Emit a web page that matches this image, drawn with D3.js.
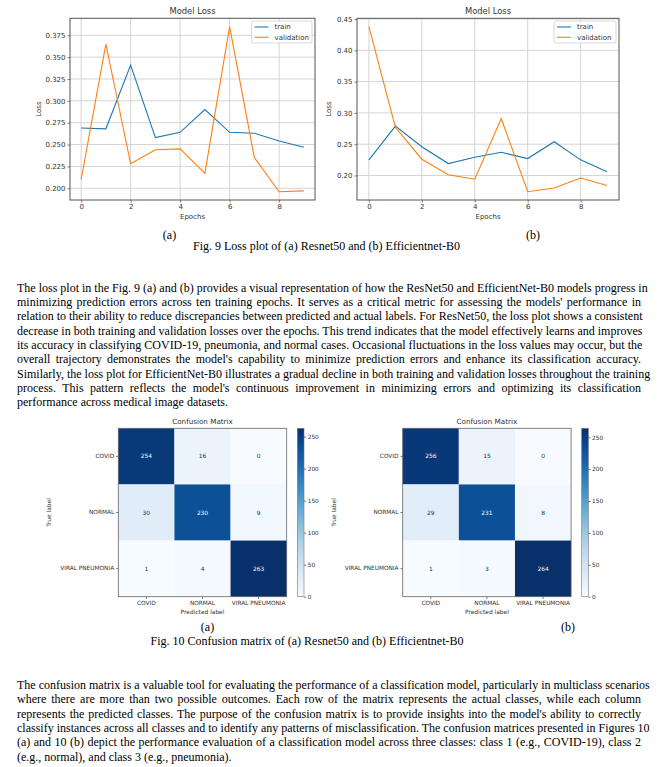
<!DOCTYPE html>
<html>
<head>
<meta charset="utf-8">
<script src="https://cdn.jsdelivr.net/npm/d3@7"></script>
<style>
  body { margin: 0; background: #fff; }
  #page { position: relative; width: 658px; height: 767px; overflow: hidden; }
  #page svg { position: absolute; left: 0; top: 0; }
  .line {
    position: absolute; left: 17px; width: 624px; height: 14px; line-height: 14px;
    font-family: "Liberation Serif", "Times New Roman", serif; font-size: 12px; color: #000;
    white-space: nowrap; text-align: justify; text-align-last: justify;
  }
  .line.last { text-align-last: left; }
</style>
</head>
<body>
<div id="page"></div>
<script>
// Loss curves
var epochs = [0, 1, 2, 3, 4, 5, 6, 7, 8, 9];
var resnetTrain = [0.269, 0.268, 0.341, 0.258, 0.264, 0.290, 0.264, 0.263, 0.254, 0.247];
var resnetVal = [0.210, 0.365, 0.228, 0.244, 0.245, 0.217, 0.385, 0.235, 0.196, 0.197];
var effTrain = [0.225, 0.279, 0.246, 0.219, 0.229, 0.237, 0.227, 0.254, 0.225, 0.206];
var effVal = [0.438, 0.277, 0.226, 0.201, 0.194, 0.291, 0.174, 0.180, 0.196, 0.184];

// Tick labels
var epochTicks = [0, 2, 4, 6, 8];
var resnetLossTicks = [0.200, 0.225, 0.250, 0.275, 0.300, 0.325, 0.350, 0.375];
var effLossTicks = [0.20, 0.25, 0.30, 0.35, 0.40, 0.45];
var colorbarTicks = [0, 50, 100, 150, 200, 250];

// Confusion matrices (rows = true label, columns = predicted label)
var classLabels = ["COVID", "NORMAL", "VIRAL PNEUMONIA"];
var resnetMatrix = [[254, 16, 0], [30, 230, 9], [1, 4, 263]];
var effMatrix = [[256, 15, 0], [29, 231, 8], [1, 3, 264]];

// Body text, one entry per printed line
var para1Lines = [
  "The loss plot in the Fig. 9 (a) and (b) provides a visual representation of how the ResNet50 and EfficientNet-B0 models progress in",
  "minimizing prediction errors across ten training epochs. It serves as a critical metric for assessing the models' performance in",
  "relation to their ability to reduce discrepancies between predicted and actual labels. For ResNet50, the loss plot shows a consistent",
  "decrease in both training and validation losses over the epochs. This trend indicates that the model effectively learns and improves",
  "its accuracy in classifying COVID-19, pneumonia, and normal cases. Occasional fluctuations in the loss values may occur, but the",
  "overall trajectory demonstrates the model's capability to minimize prediction errors and enhance its classification accuracy.",
  "Similarly, the loss plot for EfficientNet-B0 illustrates a gradual decline in both training and validation losses throughout the training",
  "process. This pattern reflects the model's continuous improvement in minimizing errors and optimizing its classification",
  "performance across medical image datasets."
];
var para2Lines = [
  "The confusion matrix is a valuable tool for evaluating the performance of a classification model, particularly in multiclass scenarios",
  "where there are more than two possible outcomes. Each row of the matrix represents the actual classes, while each column",
  "represents the predicted classes. The purpose of the confusion matrix is to provide insights into the model's ability to correctly",
  "classify instances across all classes and to identify any patterns of misclassification. The confusion matrices presented in Figures 10",
  "(a) and 10 (b) depict the performance evaluation of a classification model across three classes: class 1 (e.g., COVID-19), class 2",
  "(e.g., normal), and class 3 (e.g., pneumonia)."
];

var mplFont = "DejaVu Sans, sans-serif";
var serifFont = "Liberation Serif, Times New Roman, serif";
var textColor = "#333";

var page = d3.select("#page");
var svg = page.append("svg")
  .attr("width", 658)
  .attr("height", 767);

// Colorbar gradient shared by both matrices
var grad = svg.append("defs").append("linearGradient")
  .attr("id", "blues")
  .attr("x1", 0).attr("y1", 1).attr("x2", 0).attr("y2", 0);
grad.selectAll("stop")
  .data(d3.range(0, 1.0001, 0.1))
  .enter()
  .append("stop")
  .attr("offset", d => d)
  .attr("stop-color", d => d3.interpolateBlues(d));

function styleTicks(axisG, size) {
  axisG.attr("font-family", mplFont).attr("font-size", size);
  axisG.selectAll("text").attr("fill", textColor);
  axisG.selectAll("line").attr("stroke", "#444").attr("stroke-width", 0.7);
  axisG.select(".domain").remove();
}

// Line chart of train / validation loss
function drawLoss(cfg) {
  var g = svg.append("g");

  var xPad = (d3.max(epochs) - d3.min(epochs)) * 0.05;
  var x = d3.scaleLinear()
    .domain([d3.min(epochs) - xPad, d3.max(epochs) + xPad])
    .range([cfg.left, cfg.right]);

  var all = cfg.train.concat(cfg.val);
  var yPad = (d3.max(all) - d3.min(all)) * 0.05;
  var y = d3.scaleLinear()
    .domain([d3.min(all) - yPad, d3.max(all) + yPad])
    .range([cfg.bottom, cfg.top]);

  // grid
  g.append("g").selectAll("line")
    .data(epochTicks)
    .enter()
    .append("line")
    .attr("x1", d => x(d)).attr("x2", d => x(d))
    .attr("y1", cfg.top).attr("y2", cfg.bottom)
    .attr("stroke", "#d4d4d4").attr("stroke-width", 1);
  g.append("g").selectAll("line")
    .data(cfg.ticks)
    .enter()
    .append("line")
    .attr("x1", cfg.left).attr("x2", cfg.right)
    .attr("y1", d => y(d)).attr("y2", d => y(d))
    .attr("stroke", "#d4d4d4").attr("stroke-width", 1);

  // axes
  var bottomAxis = d3.axisBottom(x).tickValues(epochTicks).tickSize(2.5).tickPadding(2).tickFormat(d3.format("d"));
  var leftAxis = d3.axisLeft(y).tickValues(cfg.ticks).tickSize(2.5).tickPadding(2).tickFormat(d3.format(cfg.fmt));
  styleTicks(g.append("g").attr("transform", `translate(0, ${cfg.bottom})`).call(bottomAxis), 7);
  styleTicks(g.append("g").attr("transform", `translate(${cfg.left}, 0)`).call(leftAxis), 7);

  // lines
  var line = d3.line()
    .x((d, i) => x(epochs[i]))
    .y(d => y(d));
  g.append("path").datum(cfg.train)
    .attr("d", line).attr("fill", "none")
    .attr("stroke", "#1f77b4").attr("stroke-width", 1.1);
  g.append("path").datum(cfg.val)
    .attr("d", line).attr("fill", "none")
    .attr("stroke", "#ff7f0e").attr("stroke-width", 1.1);

  // frame
  g.append("rect")
    .attr("x", cfg.left).attr("y", cfg.top)
    .attr("width", cfg.right - cfg.left).attr("height", cfg.bottom - cfg.top)
    .attr("fill", "none").attr("stroke", "#555").attr("stroke-width", 1);

  // titles
  g.append("text")
    .attr("x", (cfg.left + cfg.right) / 2).attr("y", 11).attr("dy", "0.35em")
    .attr("text-anchor", "middle").attr("font-family", mplFont).attr("font-size", 8.4)
    .attr("fill", textColor).text("Model Loss");
  g.append("text")
    .attr("x", (cfg.left + cfg.right) / 2).attr("y", 217).attr("dy", "0.35em")
    .attr("text-anchor", "middle").attr("font-family", mplFont).attr("font-size", 7)
    .attr("fill", textColor).text("Epochs");
  g.append("text")
    .attr("transform", `translate(${cfg.ylabelX}, ${(cfg.top + cfg.bottom) / 2}) rotate(-90)`)
    .attr("dy", "0.35em")
    .attr("text-anchor", "middle").attr("font-family", mplFont).attr("font-size", 7)
    .attr("fill", textColor).text("Loss");

  // legend
  var lg = g.append("g").attr("transform", `translate(${cfg.right - 3 - cfg.legendW}, 21)`);
  lg.append("rect")
    .attr("width", cfg.legendW).attr("height", 22).attr("rx", 2)
    .attr("fill", "#fff").attr("fill-opacity", 0.8)
    .attr("stroke", "#d0d0d0").attr("stroke-width", 0.8);
  var items = [["train", "#1f77b4"], ["validation", "#ff7f0e"]];
  items.forEach(function (it, i) {
    var cy = 6 + i * 10.3;
    lg.append("line")
      .attr("x1", 3).attr("x2", 17).attr("y1", cy).attr("y2", cy)
      .attr("stroke", it[1]).attr("stroke-width", 1.1);
    lg.append("text")
      .attr("x", 23).attr("y", cy).attr("dy", "0.35em")
      .attr("font-family", mplFont).attr("font-size", 7)
      .attr("fill", textColor).text(it[0]);
  });
}

// Confusion matrix with colorbar
function drawMatrix(cfg) {
  var g = svg.append("g");
  var x = d3.scaleBand().domain(classLabels).range([cfg.left, cfg.left + cfg.size]);
  var y = d3.scaleBand().domain(classLabels).range([cfg.top, cfg.top + cfg.size]);

  var flat = d3.merge(cfg.matrix);
  var vmin = d3.min(flat), vmax = d3.max(flat);
  var color = d3.scaleSequential(d3.interpolateBlues).domain([vmin, vmax]);

  var cells = [];
  cfg.matrix.forEach(function (row, i) {
    row.forEach(function (v, j) {
      cells.push({ t: classLabels[i], p: classLabels[j], v: v });
    });
  });

  g.selectAll("rect.cell")
    .data(cells)
    .enter()
    .append("rect")
    .attr("class", "cell")
    .attr("x", d => x(d.p)).attr("y", d => y(d.t))
    .attr("width", x.bandwidth()).attr("height", y.bandwidth())
    .attr("fill", d => color(d.v));

  g.selectAll("text.val")
    .data(cells)
    .enter()
    .append("text")
    .attr("class", "val")
    .attr("x", d => x(d.p) + x.bandwidth() / 2)
    .attr("y", d => y(d.t) + y.bandwidth() / 2)
    .attr("dy", "0.35em").attr("text-anchor", "middle")
    .attr("font-family", mplFont).attr("font-size", 5.9)
    .attr("fill", d => d.v > (vmin + vmax) / 2 ? color(vmin) : color(vmax))
    .text(d => d.v);

  g.append("rect")
    .attr("x", cfg.left).attr("y", cfg.top)
    .attr("width", cfg.size).attr("height", cfg.size)
    .attr("fill", "none").attr("stroke", "#666").attr("stroke-width", 0.8);

  var bottomAxis = d3.axisBottom(x).tickSize(2.2).tickPadding(2);
  var leftAxis = d3.axisLeft(y).tickSize(2.2).tickPadding(2);
  styleTicks(g.append("g").attr("transform", `translate(0, ${cfg.top + cfg.size})`).call(bottomAxis), 5.8);
  styleTicks(g.append("g").attr("transform", `translate(${cfg.left}, 0)`).call(leftAxis), 5.8);

  g.append("text")
    .attr("x", cfg.left + cfg.size / 2).attr("y", cfg.top - 6.6).attr("dy", "0.35em")
    .attr("text-anchor", "middle").attr("font-family", mplFont).attr("font-size", 7.2)
    .attr("fill", textColor).text("Confusion Matrix");
  g.append("text")
    .attr("x", cfg.left + cfg.size / 2).attr("y", cfg.top + cfg.size + 15).attr("dy", "0.35em")
    .attr("text-anchor", "middle").attr("font-family", mplFont).attr("font-size", 5.9)
    .attr("fill", textColor).text("Predicted label");
  g.append("text")
    .attr("transform", `translate(${cfg.ylabelX}, ${cfg.top + cfg.size / 2}) rotate(-90)`)
    .attr("dy", "0.35em").attr("text-anchor", "middle")
    .attr("font-family", mplFont).attr("font-size", 5.9)
    .attr("fill", textColor).text("True label");

  // colorbar
  var cb = d3.scaleLinear().domain([vmin, vmax]).range([cfg.top + cfg.size, cfg.top]);
  g.append("rect")
    .attr("x", cfg.cbX).attr("y", cfg.top)
    .attr("width", 6.7).attr("height", cfg.size)
    .attr("fill", "url(#blues)")
    .attr("stroke", "#777").attr("stroke-width", 0.6);
  var cbAxis = d3.axisRight(cb).tickValues(colorbarTicks).tickSize(2.2).tickPadding(1.5);
  styleTicks(g.append("g").attr("transform", `translate(${cfg.cbX + 6.7}, 0)`).call(cbAxis), 5.8);
}

drawLoss({ left: 70, right: 315, top: 18.3, bottom: 200, train: resnetTrain, val: resnetVal,
  ticks: resnetLossTicks, fmt: ".3f", ylabelX: 39, legendW: 60.5 });
drawLoss({ left: 357, right: 619, top: 18.3, bottom: 200, train: effTrain, val: effVal,
  ticks: effLossTicks, fmt: ".2f", ylabelX: 329, legendW: 62 });

drawMatrix({ left: 118.3, top: 428.3, size: 168.4, matrix: resnetMatrix, cbX: 297.3, ylabelX: 49 });
drawMatrix({ left: 402.7, top: 428.3, size: 168.4, matrix: effMatrix, cbX: 581.7, ylabelX: 334 });

// Figure captions
function caption(xPos, yPos, txt) {
  svg.append("text")
    .attr("x", xPos).attr("y", yPos).attr("dy", "0.35em")
    .attr("text-anchor", "middle")
    .attr("font-family", serifFont).attr("font-size", 12)
    .attr("fill", "#000").text(txt);
}
caption(169.5, 235, "(a)");
caption(533, 235, "(b)");
caption(326.5, 246, "Fig. 9 Loss plot of (a) Resnet50 and (b) Efficientnet-B0");
caption(207.5, 627, "(a)");
caption(568, 627, "(b)");
caption(307, 641, "Fig. 10 Confusion matrix of (a) Resnet50 and (b) Efficientnet-B0");

// Justified paragraphs, one div per printed line
function paragraph(lines, firstY, step) {
  page.selectAll(null)
    .data(lines)
    .enter()
    .append("div")
    .attr("class", (d, i) => i === lines.length - 1 ? "line last" : "line")
    .style("top", (d, i) => (firstY + i * step - 7) + "px")
    .text(d => d);
}
paragraph(para1Lines, 287.7, 14.3);
paragraph(para2Lines, 685, 14.3);
</script>
</body>
</html>
